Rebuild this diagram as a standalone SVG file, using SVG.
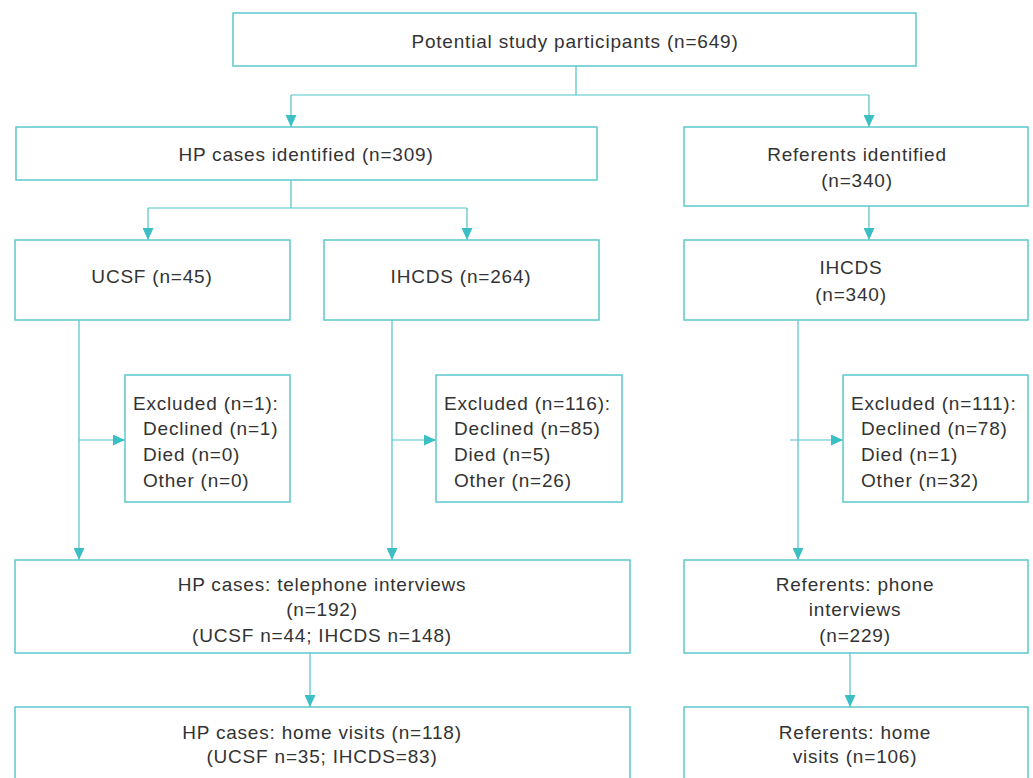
<svg xmlns="http://www.w3.org/2000/svg" width="1033" height="778" viewBox="0 0 1033 778">
<defs>
<style>
.box{fill:#fff;stroke:#5cc8cc;stroke-width:1.5}
.ln{fill:none;stroke:#4fc3c8;stroke-width:1.2}
text{font-family:"Liberation Sans",Arial,sans-serif;font-size:19px;letter-spacing:0.8px;fill:#333}
.c{text-anchor:middle}
</style>
<marker id="ah" viewBox="0 0 12 11" refX="12" refY="5.5" markerWidth="12" markerHeight="11" markerUnits="userSpaceOnUse" orient="auto">
<path d="M0,0 L12,5.5 L0,11 Z" fill="#3bbfc4"/>
</marker>
</defs>
<rect width="1033" height="778" fill="#fff"/>
<g id="connectors">
<path class="ln" d="M576,66 V95 M291,95 H869"/>
<path class="ln" d="M291,95 V127" marker-end="url(#ah)"/>
<path class="ln" d="M869,95 V127" marker-end="url(#ah)"/>
<path class="ln" d="M291,180 V208 M148,208 H467"/>
<path class="ln" d="M148,208 V240" marker-end="url(#ah)"/>
<path class="ln" d="M467,208 V240" marker-end="url(#ah)"/>
<path class="ln" d="M869,206 V240" marker-end="url(#ah)"/>
<path class="ln" d="M79,320 V560" marker-end="url(#ah)"/>
<path class="ln" d="M79,440 H125" marker-end="url(#ah)"/>
<path class="ln" d="M392,320 V560" marker-end="url(#ah)"/>
<path class="ln" d="M392,440 H436" marker-end="url(#ah)"/>
<path class="ln" d="M798,320 V560" marker-end="url(#ah)"/>
<path class="ln" d="M790,440 H843" marker-end="url(#ah)"/>
<path class="ln" d="M310,653 V707" marker-end="url(#ah)"/>
<path class="ln" d="M850,653 V707" marker-end="url(#ah)"/>
</g>
<g id="n-potential"><rect class="box" x="233" y="13" width="683" height="53"/><text class="c" x="575" y="48">Potential study participants (n=649)</text></g>
<g id="n-hp"><rect class="box" x="16" y="127" width="581" height="53"/><text class="c" x="306" y="161">HP cases identified (n=309)</text></g>
<g id="n-ref"><rect class="box" x="684" y="127" width="344" height="79"/><text class="c" x="857" y="161">Referents identified</text><text class="c" x="857" y="187">(n=340)</text></g>
<g id="n-ucsf"><rect class="box" x="15" y="240" width="275" height="80"/><text class="c" x="152" y="283">UCSF (n=45)</text></g>
<g id="n-ihcds"><rect class="box" x="324" y="240" width="275" height="80"/><text class="c" x="461" y="283">IHCDS (n=264)</text></g>
<g id="n-ihcds-ref"><rect class="box" x="684" y="240" width="344" height="80"/><text class="c" x="851" y="274">IHCDS</text><text class="c" x="851" y="301">(n=340)</text></g>
<g id="n-exc1"><rect class="box" x="125" y="375" width="165" height="127"/><text x="133" y="410">Excluded (n=1):</text><text x="143" y="435">Declined (n=1)</text><text x="143" y="461">Died (n=0)</text><text x="143" y="487">Other (n=0)</text></g>
<g id="n-exc2"><rect class="box" x="436" y="375" width="186" height="127"/><text x="444" y="410">Excluded (n=116):</text><text x="454" y="435">Declined (n=85)</text><text x="454" y="461">Died (n=5)</text><text x="454" y="487">Other (n=26)</text></g>
<g id="n-exc3"><rect class="box" x="843" y="375" width="185" height="127"/><text x="851" y="410">Excluded (n=111):</text><text x="861" y="435">Declined (n=78)</text><text x="861" y="461">Died (n=1)</text><text x="861" y="487">Other (n=32)</text></g>
<g id="n-hp-tel"><rect class="box" x="15" y="560" width="615" height="93"/><text class="c" x="322" y="591">HP cases: telephone interviews</text><text class="c" x="322" y="616">(n=192)</text><text class="c" x="322" y="642">(UCSF n=44; IHCDS n=148)</text></g>
<g id="n-ref-tel"><rect class="box" x="684" y="560" width="344" height="93"/><text class="c" x="855" y="591">Referents: phone</text><text class="c" x="855" y="616">interviews</text><text class="c" x="855" y="642">(n=229)</text></g>
<g id="n-hp-home"><rect class="box" x="15" y="707" width="615" height="90"/><text class="c" x="322" y="739">HP cases: home visits (n=118)</text><text class="c" x="322" y="763">(UCSF n=35; IHCDS=83)</text></g>
<g id="n-ref-home"><rect class="box" x="684" y="707" width="344" height="90"/><text class="c" x="855" y="739">Referents: home</text><text class="c" x="855" y="763">visits (n=106)</text></g>
</svg>
